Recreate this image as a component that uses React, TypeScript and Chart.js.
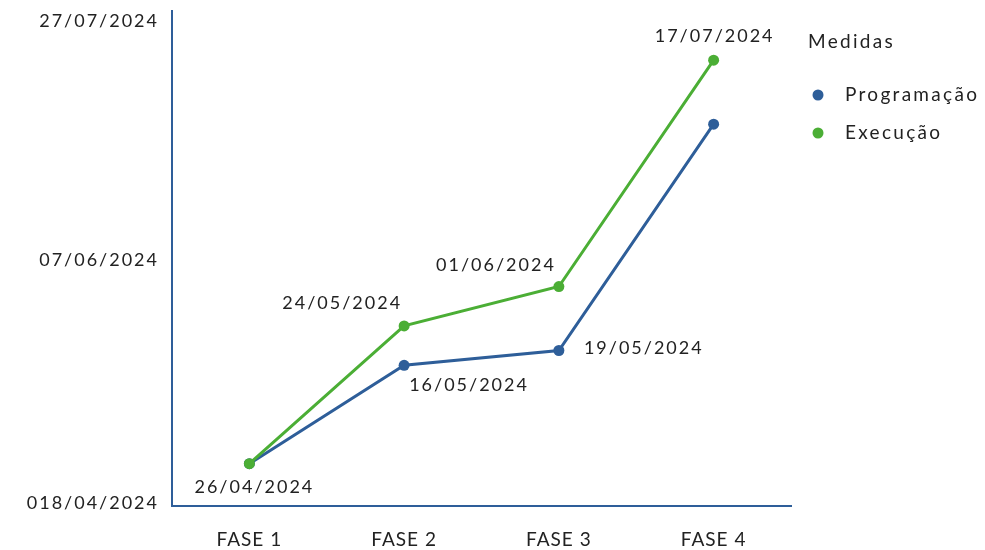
import React, { useEffect, useRef } from "react";
import { Chart, registerables } from "chart.js";

Chart.register(...registerables);

const categories = ["FASE 1", "FASE 2", "FASE 3", "FASE 4"];
const seriesNames = ["Programação", "Execução"];
const programacaoDates = ["2024-04-26", "2024-05-16", "2024-05-19", "2024-07-04"];
const execucaoDates = ["2024-04-26", "2024-05-24", "2024-06-01", "2024-07-17"];
const programacaoLabels = ["26/04/2024", "16/05/2024", "19/05/2024", ""];
const execucaoLabels = ["", "24/05/2024", "01/06/2024", "17/07/2024"];
const axisStartDate = "2024-04-18";
const yTickDates = ["2024-04-18", "2024-06-07", "2024-07-27"];
const yTickLabels = ["018/04/2024", "07/06/2024", "27/07/2024"];
const legendTitle = "Medidas";

const BLUE = "#2E5E99";
const GREEN = "#4BAE35";
const TEXT = "#222222";
const FONT = "Lato, 'Open Sans', sans-serif";

const toDay = (s: string) => {
  const [y, m, d] = s.split("-").map(Number);
  const [y0, m0, d0] = axisStartDate.split("-").map(Number);
  return (Date.UTC(y, m - 1, d) - Date.UTC(y0, m0 - 1, d0)) / 86400000;
};

// label placement styles per series / point: [dx, dy, align]
const progLabelPos: [number, number, CanvasTextAlign][] = [
  [5, 24, "center"],
  [5, 20, "left"],
  [25, -2, "left"],
  [0, -24, "center"],
];
const execLabelPos: [number, number, CanvasTextAlign][] = [
  [5, 24, "center"],
  [-2, -23, "right"],
  [-3, -21, "right"],
  [1, -24, "center"],
];

const overlayPlugin = {
  id: "overlay",
  beforeDraw(chart: any) {
    (chart.ctx as any).letterSpacing = "1px";
  },
  afterDraw(chart: any) {
    const ctx = chart.ctx as any;
    const y = chart.scales.y;
    const area = chart.chartArea;
    ctx.save();
    ctx.fillStyle = TEXT;
    ctx.textBaseline = "middle";
    // y tick labels
    ctx.font = `18px ${FONT}`;
    ctx.letterSpacing = "2px";
    ctx.textAlign = "right";
    yTickDates.forEach((d, i) => {
      let py = y.getPixelForValue(toDay(d));
      py = Math.max(py, area.top + 10);
      ctx.fillText(yTickLabels[i], 159, py + (i === 1 ? 3 : 0));
    });
    // data labels
    const drawLabels = (dsIndex: number, labels: string[], pos: [number, number, CanvasTextAlign][]) => {
      const meta = chart.getDatasetMeta(dsIndex);
      meta.data.forEach((pt: any, i: number) => {
        if (!labels[i]) return;
        const [dx, dy, al] = pos[i];
        ctx.textAlign = al;
        ctx.fillText(labels[i], pt.x + dx, pt.y + dy);
      });
    };
    drawLabels(0, programacaoLabels, progLabelPos);
    drawLabels(1, execucaoLabels, execLabelPos);
    // legend
    ctx.textAlign = "left";
    ctx.font = `19px ${FONT}`;
    ctx.letterSpacing = "2.3px";
    ctx.fillText(legendTitle, 808, 42);
    const colors = [BLUE, GREEN];
    seriesNames.forEach((name, i) => {
      const cy = 95 + i * 38;
      ctx.beginPath();
      ctx.fillStyle = colors[i];
      ctx.arc(818, cy, 5.5, 0, Math.PI * 2);
      ctx.fill();
      ctx.fillStyle = TEXT;
      ctx.fillText(name, 845, cy);
    });
    ctx.restore();
  },
};

export default function App() {
  const ref = useRef<HTMLCanvasElement>(null);
  useEffect(() => {
    if (!ref.current) return;
    const chart = new Chart(ref.current, {
      type: "line",
      data: {
        labels: categories,
        datasets: [
          {
            label: seriesNames[0],
            data: programacaoDates.map(toDay),
            borderColor: BLUE,
            backgroundColor: BLUE,
            borderWidth: 3,
            pointRadius: 5.5,
            pointBorderWidth: 0,
            tension: 0,
            order: 1,
          },
          {
            label: seriesNames[1],
            data: execucaoDates.map(toDay),
            borderColor: GREEN,
            backgroundColor: GREEN,
            borderWidth: 3,
            pointRadius: 5.5,
            pointBorderWidth: 0,
            tension: 0,
            order: 0,
          },
        ],
      },
      options: {
        animation: false,
        responsive: true,
        maintainAspectRatio: false,
        layout: { padding: { left: 0, top: 11, right: 194, bottom: 0 } },
        plugins: { legend: { display: false }, tooltip: { enabled: false } },
        events: [],
        scales: {
          x: {
            offset: true,
            grid: { display: false, drawTicks: false },
            border: { display: true, color: BLUE, width: 2 },
            ticks: { color: TEXT, font: { family: FONT, size: 19 }, padding: 22 },
            afterFit: (s: any) => {
              s.height = 44;
            },
          },
          y: {
            min: -0.6,
            max: 100,
            grid: { display: false, drawTicks: false },
            border: { display: true, color: BLUE, width: 2 },
            ticks: { display: false },
            afterBuildTicks: (s: any) => {
              s.ticks = yTickDates.map((d) => ({ value: toDay(d) }));
            },
            afterFit: (s: any) => {
              s.width = 172;
            },
          },
        },
      },
      plugins: [overlayPlugin],
    });
    return () => chart.destroy();
  }, []);
  return (
    <div style={{ position: "fixed", left: 0, top: 0, width: 985, height: 550, background: "#fff" }}>
      <canvas ref={ref} />
    </div>
  );
}
